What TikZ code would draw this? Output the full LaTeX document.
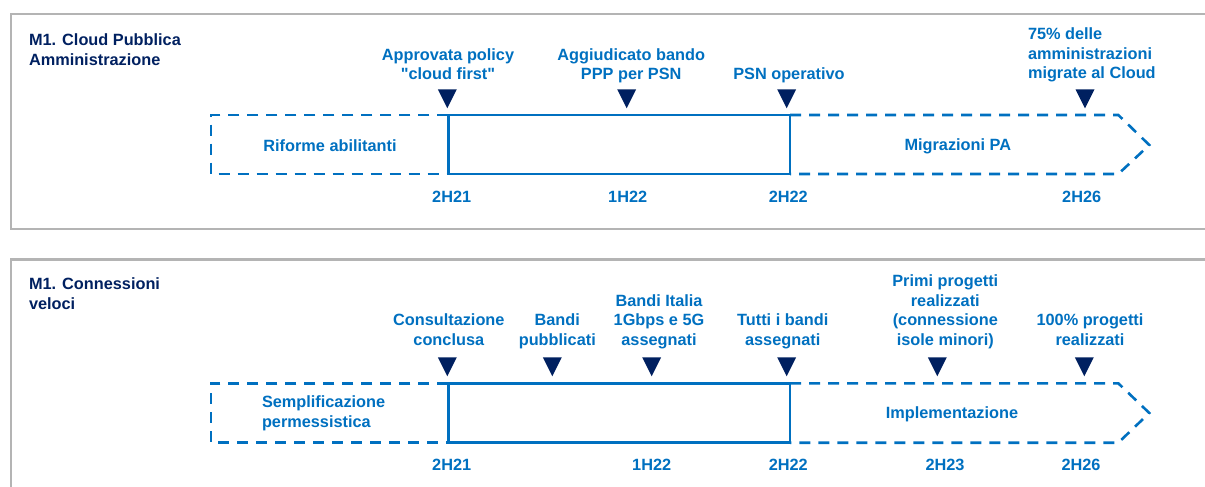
\documentclass[tikz,border=0pt]{standalone}
\usepackage{fontspec}
\setmainfont{Liberation Sans}
\newcommand\straightquote{\XeTeXglyph\XeTeXcharglyph"22\relax}
\definecolor{tlblue}{RGB}{0,112,192}
\definecolor{tlnavy}{RGB}{0,32,96}
\definecolor{framegray}{RGB}{180,180,180}
\begin{document}
\begin{tikzpicture}[x=1pt,y=-1pt,
  txt/.style={font=\fontsize{16.3}{19.5}\selectfont\bfseries, inner sep=0pt, outer sep=0pt},
  title/.style={txt, text=tlnavy, align=left, anchor=south west},
  mlabel/.style={txt, text=tlblue, align=center, anchor=south},
  mlabelleft/.style={txt, text=tlblue, align=left, anchor=south west},
  datelabel/.style={txt, text=tlblue, anchor=base},
  phaselabel/.style={txt, text=tlblue, anchor=base},
  panel/.style={draw=framegray, line width=2.6pt},
  solidphase/.style={draw=tlblue, line width=2.6pt},
  dashedphase/.style={draw=tlblue, line width=2.6pt, dash pattern=on 11pt off 8pt},
  marker/.style={fill=tlnavy}
]
\useasboundingbox (0,0) rectangle (1205,487);
\clip (0,0) rectangle (1205,487);

% ---------------- panel 1 ----------------
\draw[panel] (11,14) rectangle (1220,229);
\node[title] (t1) at (29,68.6) {M1. Cloud Pubblica\\Amministrazione\vphantom{g}};

\draw[dashedphase] (448.3,115) -- (211,115) -- (211,174) -- (448.3,174);
\draw[solidphase] (448.3,115) rectangle (790,174);
\draw[dashedphase] (790,115) -- (1118.3,115) -- (1149.3,145) -- (1118.3,174) -- (790,174);

\node[phaselabel] (p1a) at (330,151) {Riforme abilitanti};
\node[phaselabel] (p1b) at (957.8,150) {Migrazioni PA};

\foreach \mx in {447.3,626.7,786.7,1085}
  \fill[marker] (\mx-9.5,89.3) -- (\mx+9.5,89.3) -- (\mx,108.3) -- cycle;

\node[mlabel] (m1a) at (448,83.4) {Approvata policy\\\straightquote cloud first\straightquote\vphantom{g}};
\node[mlabel] (m1b) at (631.2,83.4) {Aggiudicato bando\\PPP per PSN\vphantom{g}};
\node[mlabel] (m1c) at (789,83.4) {PSN operativo\vphantom{g}};
\node[mlabelleft] (m1d) at (1028,82) {75\% delle\\amministrazioni\\migrate al Cloud\vphantom{g}};

\node[datelabel] (d1a) at (451.7,202.5) {2H21};
\node[datelabel] (d1b) at (627.7,202.5) {1H22};
\node[datelabel] (d1c) at (788.3,202.5) {2H22};
\node[datelabel] (d1d) at (1081.7,202.5) {2H26};

% ---------------- panel 2 ----------------
\draw[panel] (11,259.3) rectangle (1220,500);
\node[title] (t2) at (29,312.6) {M1. Connessioni\\veloci\vphantom{g}};

\draw[dashedphase] (448.3,383.3) -- (211,383.3) -- (211,442.7) -- (448.3,442.7);
\draw[solidphase] (448.3,383.3) rectangle (790,442.7);
\draw[dashedphase] (790,383.3) -- (1118.3,383.3) -- (1149.3,413) -- (1118.3,442.7) -- (790,442.7);

\node[mlabelleft] (p2a) at (262,430.9) {Semplificazione\\permessistica\vphantom{g}};
\node[phaselabel] (p2b) at (952,418) {Implementazione};

\foreach \mx in {447.3,552.3,651.7,786.7,937.3,1084.3}
  \fill[marker] (\mx-9.5,357.3) -- (\mx+9.5,357.3) -- (\mx,376.3) -- cycle;

\node[mlabel] (m2a) at (448.8,348.9) {Consultazione\\conclusa\vphantom{g}};
\node[mlabel] (m2b) at (557.3,348.9) {Bandi\\pubblicati\vphantom{g}};
\node[mlabel] (m2c) at (659,348.9) {Bandi Italia\\1Gbps e 5G\\assegnati\vphantom{g}};
\node[mlabel] (m2d) at (782.7,348.9) {Tutti i bandi\\assegnati\vphantom{g}};
\node[mlabel] (m2e) at (945.3,348.9) {Primi progetti\\realizzati\\(connessione\\isole minori)\vphantom{g}};
\node[mlabel] (m2f) at (1090,348.9) {100\% progetti\\realizzati\vphantom{g}};

\node[datelabel] (d2a) at (451.7,470.2) {2H21};
\node[datelabel] (d2b) at (651.7,470.2) {1H22};
\node[datelabel] (d2c) at (788.3,470.2) {2H22};
\node[datelabel] (d2d) at (945,470.2) {2H23};
\node[datelabel] (d2e) at (1081,470.2) {2H26};
\end{tikzpicture}
\end{document}
